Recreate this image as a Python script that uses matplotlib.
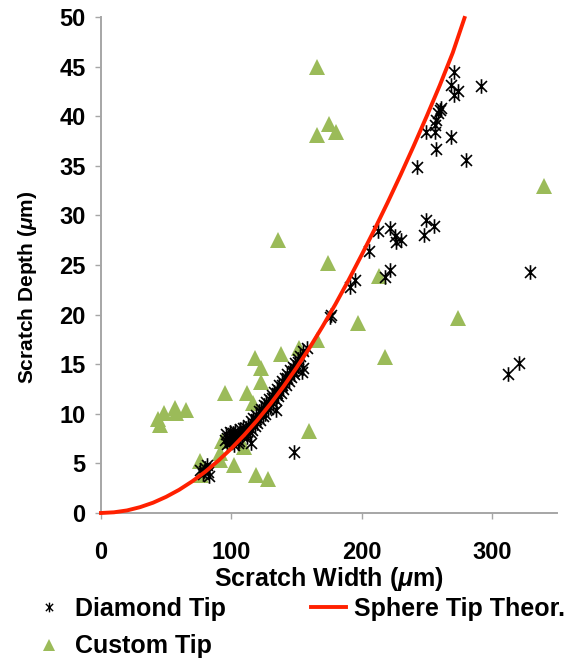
import matplotlib
matplotlib.use("Agg")
import matplotlib.pyplot as plt
from matplotlib.path import Path
from matplotlib.lines import Line2D

plt.rcParams['font.family'] = ['Liberation Sans', 'DejaVu Sans']
plt.rcParams['font.weight'] = 'bold'
plt.rcParams['mathtext.fontset'] = 'custom'
plt.rcParams['mathtext.rm'] = 'Liberation Sans:bold'
plt.rcParams['mathtext.it'] = 'Liberation Sans:italic:bold'
plt.rcParams['mathtext.bf'] = 'Liberation Sans:bold'

# ---- data ----
diamond_x = [76, 78, 80, 82, 83, 81, 79,
             95, 96, 97, 98, 99, 100, 101, 102, 103, 104, 105, 106, 107, 108, 110,
             97, 99, 101, 103, 105, 107, 109,
             111, 112, 113, 114, 115, 116, 117, 118, 119, 120, 121, 122, 123, 124,
             125, 126, 127, 128, 129, 130, 131, 132, 133, 134, 135, 136, 137, 138,
             139, 140, 141, 142, 143, 144, 145, 146, 147, 148, 149, 150, 151, 153,
             155, 158,
             119, 123, 127, 131, 135, 139, 143, 147, 151,
             115, 134.5, 148, 155, 154, 175.4,
             176.7, 190.8, 194.6, 206, 217.6, 221.5, 212.5, 221.5, 225.3, 230.5,
             226.6, 247.6, 249.1, 255.3, 328.9, 321.2, 312.3,
             242.4, 279.8, 256.8, 268.8, 249.6, 256, 256, 257.3, 258.6, 261.2,
             271.3, 273.9, 268.8, 291.8, 271.3, 260]
diamond_y = [4.3, 3.9, 4.5, 4.1, 3.7, 4.8, 4.2,
             7.4, 8.0, 7.0, 7.6, 8.2, 7.2, 7.8, 6.9, 8.3, 7.5, 8.0, 7.3, 8.5, 7.8, 8.2,
             7.6, 7.3, 8.1, 7.7, 7.1, 8.0, 8.6,
             8.6, 7.7, 8.9, 8.2, 9.3, 8.4, 9.6, 8.8, 9.9, 9.1, 10.3, 9.4, 10.5, 9.8,
             10.9, 10.0, 11.2, 10.5, 11.5, 10.7, 11.9, 11.1, 12.2, 11.4, 12.5, 11.8, 12.9, 12.1,
             13.3, 12.5, 13.6, 12.9, 14.0, 13.3, 14.4, 13.7, 14.7, 14.0, 15.1, 14.5, 15.5, 15.8,
             16.3, 16.6,
             9.5, 10.2, 10.8, 11.6, 12.1, 12.9, 13.6, 14.3, 15.2,
             7.1, 10.4, 6.1, 14.6, 14.2, 19.8,
             20.0, 22.8, 23.5, 26.4, 23.8, 24.5, 28.4, 28.7, 27.9, 27.5,
             27.3, 28.0, 29.5, 28.9, 24.3, 15.1, 14.0,
             34.9, 35.6, 36.7, 37.9, 38.4, 38.4, 39.1, 39.6, 40.3, 40.8,
             42.1, 42.5, 43.1, 43.0, 44.5, 40.6]

custom_x = [166, 166, 175, 180, 136, 340, 174, 213, 197, 274, 218, 166, 160,
            152, 138, 118, 122.5, 122.5, 95, 112, 117, 44, 45, 48, 57, 57.5, 65,
            93, 110, 91, 91, 76, 102, 77, 118.6, 128]
custom_y = [45.0, 38.1, 39.2, 38.4, 27.5, 33.0, 25.2, 23.9, 19.2, 19.7, 15.7, 17.4, 8.3,
            16.6, 16.0, 15.6, 14.6, 13.2, 12.1, 12.1, 11.1, 9.5, 8.9, 10.1, 10.6, 10.1, 10.4,
            7.3, 6.7, 6.0, 5.3, 5.2, 4.8, 3.8, 3.8, 3.4]

theory_x = [0, 10, 20, 30, 40, 50, 60, 70, 80, 90, 100, 110, 120, 130, 140, 150,
            160, 170, 180, 190, 200, 210, 220, 230, 240, 250, 260, 270, 279]
theory_y = [0, 0.07, 0.26, 0.59, 1.04, 1.63, 2.34, 3.19, 4.16, 5.27, 6.5, 7.87,
            9.36, 10.99, 12.74, 14.63, 16.64, 18.79, 21.06, 23.47, 26.0, 28.6,
            31.3, 34.1, 37.0, 40.0, 43.1, 46.4, 49.9]

x_ticks = [0, 100, 200, 300]
y_ticks = [0, 5, 10, 15, 20, 25, 30, 35, 40, 45, 50]

# ---- styling ----
star = Path([(0, -1), (0, 1), (-0.75, -0.75), (0.75, 0.75), (-0.75, 0.75), (0.75, -0.75)],
            [Path.MOVETO, Path.LINETO, Path.MOVETO, Path.LINETO, Path.MOVETO, Path.LINETO])
green = '#9BBB59'
red = '#FF2000'
gray = '#A6A6A6'

fig = plt.figure(figsize=(5.72, 6.6), dpi=100)
ax = fig.add_axes([101 / 572, 1 - 513 / 660, 456 / 572, 496 / 660])

ax.plot(custom_x, custom_y, linestyle='none', marker='^', markersize=11,
        color=green, markeredgewidth=0, zorder=2, label='Custom Tip')
ax.plot(diamond_x, diamond_y, linestyle='none', marker=star, markersize=10.5,
        markeredgecolor='black', markerfacecolor='none', markeredgewidth=1.2,
        zorder=3, label='Diamond Tip')
ax.plot(theory_x, theory_y, color=red, linewidth=2.8, zorder=4,
        label='Sphere Tip Theor.', clip_on=False, solid_joinstyle='round')

ax.set_xlim(0, 350)
ax.set_ylim(0, 50)
ax.set_xticks(x_ticks)
ax.set_yticks(y_ticks)
for s in ['top', 'right']:
    ax.spines[s].set_visible(False)
for s in ['left', 'bottom']:
    ax.spines[s].set_color(gray)
    ax.spines[s].set_linewidth(1.4)
ax.tick_params(axis='both', colors=gray, labelcolor='black', labelsize=17,
               length=4, width=1.0, direction='out')
ax.tick_params(axis='x', pad=16)
ax.tick_params(axis='y', pad=7)
for lab in ax.get_xticklabels() + ax.get_yticklabels():
    lab.set_fontweight('bold')

ax.set_xlabel(r'Scratch Width ($\mu$m)', fontsize=18, fontweight='bold', labelpad=1)
ax.set_ylabel(r'Scratch Depth ($\mu$m)', fontsize=15, fontweight='bold')
ax.yaxis.set_label_coords(-0.137, 0.455)

h_d = Line2D([], [], linestyle='none', marker=star, markersize=7,
             markeredgecolor='black', markeredgewidth=1.0)
h_c = Line2D([], [], linestyle='none', marker='^', markersize=9, color=green,
             markeredgewidth=0)
h_s = Line2D([], [], color=red, linewidth=2.8)
fig.legend([h_d, h_c, h_s], ['Diamond Tip', 'Custom Tip', 'Sphere Tip Theor.'],
           ncol=2, loc='upper left', bbox_to_anchor=(31 / 572, 1 - 597 / 660),
           frameon=False, borderpad=0, borderaxespad=0,
           handlelength=1.4, handletextpad=0.35, columnspacing=3.4,
           labelspacing=0.53, prop={'weight': 'bold', 'size': 18})

fig.savefig('out.png', dpi=100)
